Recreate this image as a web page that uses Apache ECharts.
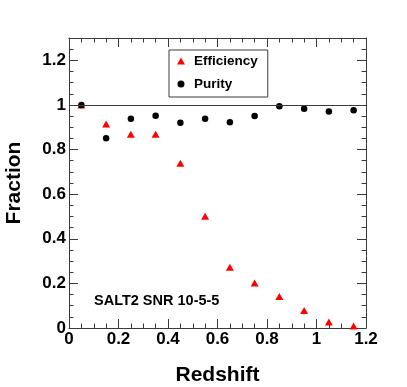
<!DOCTYPE html>
<html>
<head>
<meta charset="utf-8">
<script src="https://cdn.jsdelivr.net/npm/echarts@6/dist/echarts.min.js"></script>
<style>
  html, body { margin: 0; padding: 0; background: #fff; }
  #chart { width: 407px; height: 387px; }
</style>
</head>
<body>
<div id="chart"></div>
<script>
// bin centres (redshift)
const redshift = [0.05, 0.15, 0.25, 0.35, 0.45, 0.55, 0.65, 0.75, 0.85, 0.95, 1.05, 1.15]
// efficiency values
const efficiency = [1.0, 0.914, 0.868, 0.868, 0.738, 0.501, 0.272, 0.202, 0.141, 0.079, 0.027, 0.009]
// purity values
const purity = [1.0, 0.851, 0.938, 0.952, 0.920, 0.938, 0.922, 0.950, 0.994, 0.983, 0.970, 0.976]

const frameColor = '#3a3a3a'
const font = 'Liberation Sans, Arial, Helvetica, sans-serif'

const effData = redshift.map((x, i) => [x, efficiency[i]])
const purData = redshift.map((x, i) => [x, purity[i]])

// x axis, bottom one has the labels
function xAxisDef(pos, labels) {
  return {
    type: 'value',
    position: pos,
    min: 0,
    max: 1.2,
    interval: 0.2,
    name: labels ? 'Redshift' : '',
    nameLocation: 'middle',
    nameGap: 37,
    nameTextStyle: { fontFamily: font, fontWeight: 'bold', fontSize: 21, color: '#000' },
    axisLine: { show: true, onZero: false, lineStyle: { color: frameColor, width: 1 } },
    axisTick: { show: true, inside: true, length: 9, lineStyle: { color: frameColor } },
    minorTick: { show: true, splitNumber: 4, length: 4.5, lineStyle: { color: frameColor } },
    splitLine: { show: false },
    minorSplitLine: { show: false },
    axisLabel: {
      show: labels,
      margin: 3,
      fontFamily: font,
      fontWeight: 'bold',
      fontSize: 17,
      color: '#000',
    },
  }
}

// y axis: max 1.3 is not on the 0.2 grid, so minor ticks get their own axis
function yAxisDef(pos, labels, minor) {
  return {
    type: 'value',
    position: pos,
    min: 0,
    max: 1.3,
    interval: minor ? 0.05 : 0.2,
    name: labels ? 'Fraction' : '',
    nameLocation: 'middle',
    nameGap: 44,
    nameTextStyle: { fontFamily: font, fontWeight: 'bold', fontSize: 21, color: '#000' },
    axisLine: { show: !minor, onZero: false, lineStyle: { color: frameColor, width: 1 } },
    axisTick: { show: true, inside: true, length: minor ? 4.5 : 9, lineStyle: { color: frameColor } },
    splitLine: { show: false },
    axisLabel: {
      show: labels,
      showMaxLabel: false,
      margin: 3,
      fontFamily: font,
      fontWeight: 'bold',
      fontSize: 17,
      color: '#000',
    },
  }
}

const chart = echarts.init(document.getElementById('chart'), null, { renderer: 'canvas' })
chart.setOption({
  animation: false,
  backgroundColor: '#fff',
  grid: { left: 69, right: 41, top: 38, bottom: 59, outerBoundsMode: 'none' },
  xAxis: [xAxisDef('bottom', true), xAxisDef('top', false)],
  yAxis: [
    yAxisDef('left', true, false),
    yAxisDef('left', false, true),
    yAxisDef('right', false, false),
    yAxisDef('right', false, true),
  ],
  legend: {
    orient: 'vertical',
    left: 169,
    top: 50,
    padding: [4, 10, 6, 8],
    itemGap: 9,
    itemWidth: 8,
    itemHeight: 7,
    borderColor: frameColor,
    borderWidth: 1,
    borderRadius: 0,
    textStyle: {
      fontFamily: font,
      fontWeight: 'bold',
      fontSize: 13.5,
      color: '#000',
      padding: [0, 0, 0, 4],
    },
    data: ['Efficiency', 'Purity'],
  },
  graphic: [
    {
      type: 'text',
      x: 94,
      y: 301,
      style: {
        text: 'SALT2 SNR 10-5-5',
        fontFamily: font,
        fontWeight: 'bold',
        fontSize: 14.5,
        fill: '#000',
        verticalAlign: 'middle',
      },
    },
  ],
  series: [
    {
      name: 'Efficiency',
      type: 'scatter',
      symbol: 'triangle',
      symbolSize: [8, 7],
      itemStyle: { color: '#ff0000', opacity: 1 },
      data: effData,
    },
    {
      name: 'Purity',
      type: 'scatter',
      symbol: 'circle',
      symbolSize: 6.5,
      itemStyle: { color: '#000', opacity: 1 },
      data: purData,
      markLine: {
        silent: true,
        symbol: 'none',
        label: { show: false },
        lineStyle: { color: frameColor, width: 1, type: 'solid' },
        data: [{ yAxis: 1 }],
      },
    },
  ],
})
</script>
</body>
</html>
